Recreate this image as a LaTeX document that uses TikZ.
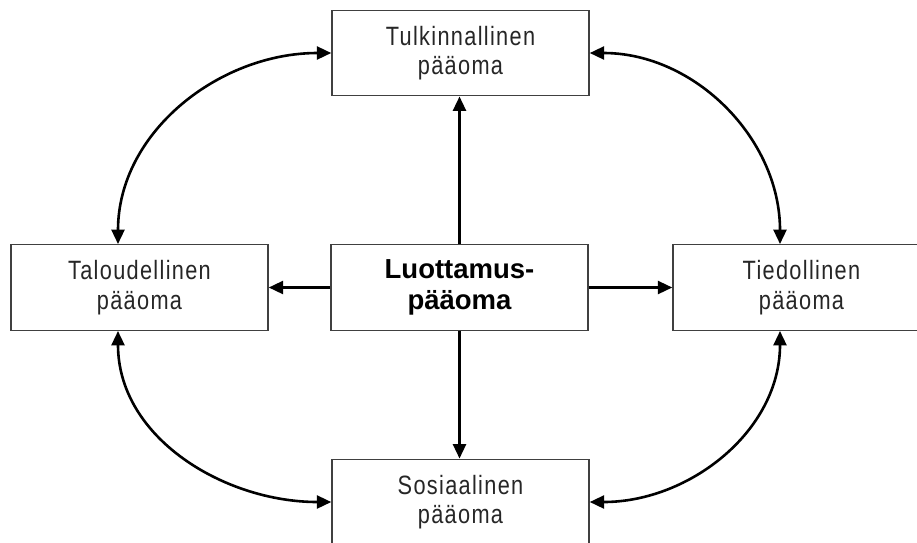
\documentclass[tikz,border=0pt]{standalone}
\usepackage{fontspec}
\setmainfont{Liberation Sans}
\newfontfamily\regfont[FakeStretch=0.82,LetterSpace=5]{Liberation Sans}
\usetikzlibrary{arrows.meta}
\definecolor{boxline}{HTML}{404040}
\definecolor{txt}{HTML}{262626}
\tikzset{
  cbox/.style={draw=boxline, line width=1.4pt, fill=white, minimum width=257pt, minimum height=85.5pt, inner sep=0pt, align=center, text=txt, font=\regfont\fontsize{26.5}{29.5}\selectfont},
  mainbox/.style={cbox, text=black, font=\bfseries\fontsize{27.5}{31}\selectfont},
  arr/.style={line width=2.6pt, -{Triangle[length=14.5pt,width=13pt]}},
  darr/.style={line width=2.6pt, {Triangle[length=14.5pt,width=13pt]}-{Triangle[length=14.5pt,width=13pt]}}
}
\begin{document}
\begin{tikzpicture}[x=1pt,y=-1pt]
\useasboundingbox (0,0) rectangle (917,542);
\clip (0,0) rectangle (917,542);
\fill[white] (0,0) rectangle (917,542);
\node[cbox] (T) at (460.5,53) {Tulkinnallinen\\pääoma};
\node[cbox] (L) at (139.5,287.5) {Taloudellinen\\pääoma};
\node[mainbox] (C) at (459.5,287.5) {Luottamus-\\pääoma};
\node[cbox] (R) at (801.5,287.5) {Tiedollinen\\pääoma};
\node[cbox] (B) at (460.5,502) {Sosiaalinen\\pääoma};
\coordinate (Ln) at ([xshift=-21.5pt]L.north);
\coordinate (Ls) at ([xshift=-21.5pt]L.south);
\coordinate (Rn) at ([xshift=-21.5pt]R.north);
\coordinate (Rs) at ([xshift=-21.5pt]R.south);
\draw[arr] (C.north) -- (C.north |- T.south);
\draw[arr] (C.south) -- (C.south |- B.north);
\draw[arr] (C.west) -- (L.east);
\draw[arr] (C.east) -- (R.west);
\draw[darr] (T.west) to[out=180,in=90] (Ln);
\draw[darr] (T.east) to[out=0,in=90] (Rn);
\draw[darr] (Ls) to[out=-90,in=180] (B.west);
\draw[darr] (Rs) to[out=-90,in=0] (B.east);
\end{tikzpicture}
\end{document}
